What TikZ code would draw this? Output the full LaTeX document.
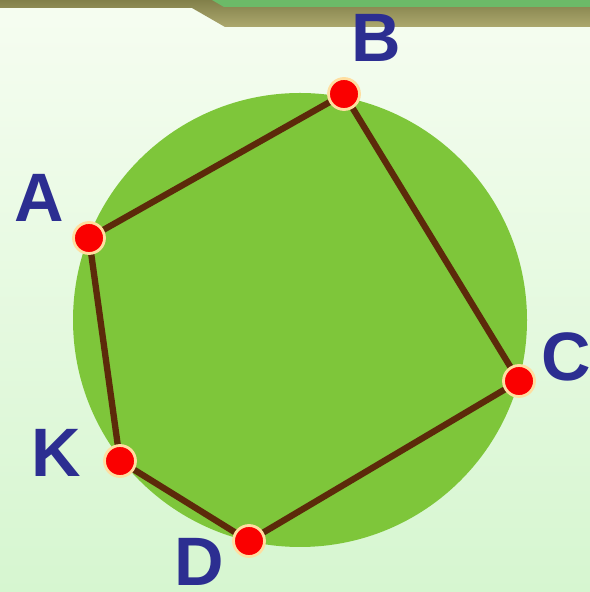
\documentclass[tikz,border=0pt]{standalone}
\usepackage{fontspec}
\setmainfont{Liberation Sans}
\usetikzlibrary{shapes,arrows}

\definecolor{bgtop}{RGB}{246,253,241}
\definecolor{bgbot}{RGB}{214,246,208}
\definecolor{disk}{RGB}{126,198,58}
\definecolor{edgebrown}{RGB}{92,42,10}
\definecolor{ptred}{RGB}{250,0,0}
\definecolor{ptrim}{RGB}{255,222,160}
\definecolor{lblblue}{RGB}{44,46,145}
\definecolor{olivedark}{RGB}{130,128,74}
\definecolor{olivelight}{RGB}{172,168,110}
\definecolor{bandgreen}{RGB}{108,186,104}

\begin{document}
\begin{tikzpicture}[thick,
  pt/.style={circle, fill=ptred, draw=ptrim, line width=0.8pt, inner sep=0pt, minimum size=0.31cm},
  lbl/.style={text=lblblue, inner sep=0pt, font=\fontsize{19.5}{19.5}\selectfont\bfseries},
  side/.style={draw=edgebrown, line width=1.8pt}]

% background and frame
\useasboundingbox (0,0) rectangle (5.90,5.92);
\shade[top color=bgtop, bottom color=bgbot] (0,0) rectangle (5.90,5.92);
\shade[top color=olivedark, bottom color=olivelight]
  (0,5.92) -- (5.90,5.92) -- (5.90,5.65) -- (2.25,5.65) -- (1.92,5.84) -- (0,5.84) -- cycle;
\fill[bandgreen] (2.12,5.92) -- (5.90,5.92) -- (5.90,5.85) -- (2.24,5.85) -- cycle;

% the circle
\fill[disk] (3.00,2.72) circle (2.27);

% points on the circle
\coordinate (A) at (0.89, 3.54);
\coordinate (B) at (3.44, 4.98);
\coordinate (C) at (5.19, 2.11);
\coordinate (D) at (2.49, 0.51);
\coordinate (K) at (1.20, 1.31);

% sides
\draw[side] (A) -- (B);
\draw[side] (B) -- (C);
\draw[side] (C) -- (D);
\draw[side] (D) -- (K);
\draw[side] (K) -- (A);

\node[pt] (pA) at (A) {};
\node[pt] (pB) at (B) {};
\node[pt] (pC) at (C) {};
\node[pt] (pD) at (D) {};
\node[pt] (pK) at (K) {};

% labels
\node[lbl] (lA) at (0.39, 3.94) {A};
\node[lbl] (lB) at (3.76, 5.54) {B};
\node[lbl] (lC) at (5.66, 2.35) {C};
\node[lbl] (lK) at (0.56, 1.39) {K};
\node[lbl] (lD) at (1.99, 0.30) {D};

\end{tikzpicture}
\end{document}
